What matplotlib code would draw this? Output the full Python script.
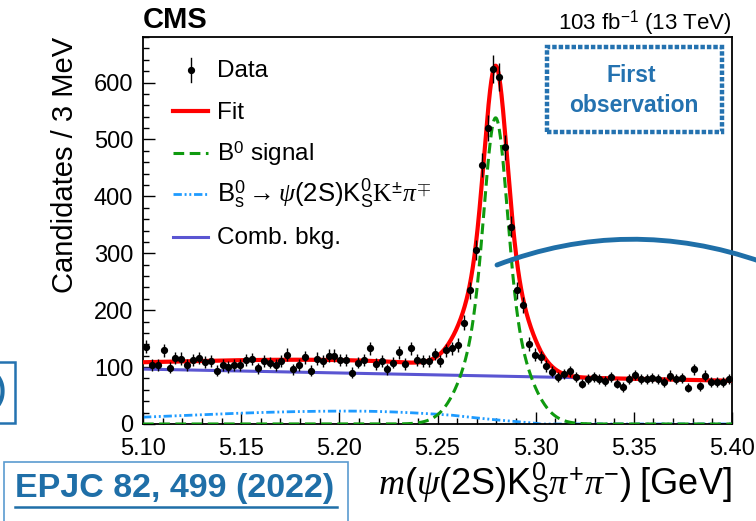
import numpy as np
import matplotlib
matplotlib.use("Agg")
import matplotlib.pyplot as plt
from matplotlib.patches import Rectangle, PathPatch
from matplotlib.path import Path
from matplotlib.lines import Line2D
from matplotlib.ticker import MultipleLocator, FormatStrFormatter

plt.rcParams['font.family'] = ['Liberation Sans', 'DejaVu Sans']
plt.rcParams['mathtext.fontset'] = 'custom'
plt.rcParams['mathtext.rm'] = 'Liberation Sans'
plt.rcParams['mathtext.it'] = 'Liberation Serif:italic'
plt.rcParams['mathtext.bf'] = 'Liberation Sans:bold'
plt.rcParams['mathtext.sf'] = 'Liberation Serif'

# ---- binned candidates: 100 bins of 3 MeV from 5.10 to 5.40 GeV ----
mass_lo, mass_hi, n_bins = 5.10, 5.40, 100
counts = [
    136, 104, 104, 130, 99, 116, 115, 104, 113, 116,
    109, 110, 94, 104, 100, 104, 104, 112, 114, 98,
    110, 108, 104, 110, 122, 96, 104, 117, 94, 115,
    110, 120, 120, 113, 113, 90, 108, 113, 133, 106,
    110, 96, 108, 126, 105, 133, 113, 110, 110, 123,
    110, 130, 133, 139, 178, 235, 306, 455, 520, 624,
    610, 486, 347, 235, 209, 141, 122, 118, 102, 92,
    82, 88, 93, 82, 71, 79, 82, 79, 75, 83,
    71, 65, 79, 86, 79, 79, 81, 79, 74, 85,
    79, 81, 64, 96, 66, 85, 74, 74, 74, 79,
]

# ---- fit model parameters ----
# B0 signal: sum of two Gaussians sharing a mean (heights relative to peak)
sig_mean = 5.2796
sig_height = 538.0
sig_core_width = 0.0055
sig_tail_width = 0.013
sig_core_frac = 0.6
# combinatorial background: straight line between the range edges
comb_at_lo = 96.5
comb_at_hi = 76.0
# Bs0 -> psi(2S) K0S K pi reflection: asymmetric bump ending at a kinematic edge
bs_height = 22.7
bs_mode = 5.205
bs_width_lo = 0.093
bs_width_hi = 0.060
bs_endpoint = 5.302
bs_edge = 0.045

edges = np.linspace(mass_lo, mass_hi, n_bins + 1)
centers = 0.5 * (edges[:-1] + edges[1:])
counts = np.asarray(counts, dtype=float)
errors = np.sqrt(counts)

m = np.linspace(mass_lo, mass_hi, 1501)
d = m - sig_mean
signal = sig_height * (sig_core_frac * np.exp(-0.5 * (d / sig_core_width) ** 2)
                       + (1 - sig_core_frac) * np.exp(-0.5 * (d / sig_tail_width) ** 2))
comb = comb_at_lo + (comb_at_hi - comb_at_lo) * (m - mass_lo) / (mass_hi - mass_lo)
bw = np.where(m < bs_mode, bs_width_lo, bs_width_hi)
bs = bs_height * np.exp(-0.5 * ((m - bs_mode) / bw) ** 2) \
    * np.sqrt(np.clip((bs_endpoint - m) / bs_edge, 0, 1))
total = signal + comb + bs

# ---- figure ----
W, H = 756, 521
fig = plt.figure(figsize=(W / 100, H / 100), dpi=100)


def fpx(x, y):
    return (x / W, 1 - y / H)


ax = fig.add_axes([143 / W, 1 - 424 / H, (732 - 143) / W, (424 - 37) / H])

red = '#ff0000'
green = '#0f9a0f'
cyan = '#1e9bff'
slate = '#5a55d2'

ax.plot(m, bs, color=cyan, lw=2.0, dashes=(3, 1, 0.7, 1, 0.7, 1), zorder=2)
ax.plot(m, comb, color=slate, lw=2.2, zorder=2)
ax.plot(m, total, color=red, lw=3.0, zorder=3)
ax.plot(m, signal, color=green, lw=2.2, dashes=(3.5, 1.8), zorder=4)
ax.errorbar(centers, counts, yerr=errors, fmt='o', color='black', ms=4.2,
            elinewidth=1.0, capsize=0, zorder=5)

ax.set_xlim(mass_lo, mass_hi)
ax.set_ylim(0, 680)
ax.xaxis.set_major_locator(MultipleLocator(0.05))
ax.xaxis.set_minor_locator(MultipleLocator(0.01))
ax.yaxis.set_major_locator(MultipleLocator(100))
ax.yaxis.set_minor_locator(MultipleLocator(20))
ax.xaxis.set_major_formatter(FormatStrFormatter('%.2f'))
ax.tick_params(which='both', direction='in', top=False, right=False,
               labelsize=17, width=1.0, color='black')
ax.tick_params(which='major', length=8.5)
ax.tick_params(axis='x', which='major', pad=10)
ax.tick_params(axis='y', which='major', pad=7)
ax.tick_params(which='minor', length=4)
for s in ax.spines.values():
    s.set_linewidth(1.3)

ax.set_ylabel('Candidates / 3 MeV', fontsize=21, loc='top')
ax.yaxis.set_label_coords(-0.108, 1.0)
ax.set_xlabel(r'$m(\psi\mathrm{(2S)K}^{0}_{\mathrm{S}}\pi^{+}\pi^{-}\mathrm{)\ [GeV]}$',
              fontsize=26, loc='right')
ax.xaxis.set_label_coords(1.0, -0.093)

fig.text(*fpx(143, 28), 'CMS', fontsize=21, fontweight='bold', ha='left', va='baseline')
fig.text(*fpx(732, 29), r'103 fb$^{\mathrm{-1}}$ (13 TeV)', fontsize=16,
         ha='right', va='baseline')

# ---- legend ----
lx0, lx1, tx = 172.7, 208.3, 217.3
fig.add_artist(Line2D([fpx(190.7, 58)[0]] * 2, [fpx(0, 58)[1], fpx(0, 82)[1]],
                      color='black', lw=1.0, transform=fig.transFigure))
fig.add_artist(Line2D([fpx(190.7, 0)[0]], [fpx(0, 69.5)[1]], marker='o', ms=4.2,
                      color='black', ls='none', transform=fig.transFigure))
legend_lines = [
    (110.7, dict(color=red, lw=3.0)),
    (153.3, dict(color=green, lw=2.2, dashes=(3.5, 1.8))),
    (194.3, dict(color=cyan, lw=2.0, dashes=(3, 1, 0.7, 1, 0.7, 1))),
    (236.7, dict(color=slate, lw=2.2)),
]
for y, kw in legend_lines:
    fig.add_artist(Line2D([lx0 / W, lx1 / W], [1 - y / H] * 2,
                          transform=fig.transFigure, **kw))
legend_texts = [
    (77.3, 'Data'),
    (119.3, 'Fit'),
    (160.7, r'B$^{0}$ signal'),
    (202.7, r'$\mathrm{B}^{0}_{\mathrm{s}}\rightarrow\psi\mathrm{(2S)K}^{0}_{\mathrm{S}}'
            r'\mathsf{K}^{\pm}\pi^{\mp}$'),
    (244.0, 'Comb. bkg.'),
]
for y, t in legend_texts:
    fs = 18.5 if t.startswith('$') else 17.5
    fig.text(*fpx(tx, y), t, fontsize=fs, ha='left', va='baseline')

# ---- annotations around the plot ----
blue = '#2472b0'
fig.add_artist(Rectangle(fpx(547, 132), (722 - 547) / W, (132 - 47) / H,
                         transform=fig.transFigure, fill=True, facecolor='white',
                         edgecolor=blue, lw=3.2, ls=(0, (1.0, 0.45)), zorder=6))
fig.text(*fpx(631, 76), 'First', fontsize=16.5, fontweight='bold', color=blue,
         ha='center', va='center', zorder=7)
fig.text(*fpx(634, 106), 'observation', fontsize=16.5, fontweight='bold', color=blue,
         ha='center', va='center', zorder=7)

arc = Path([fpx(497, 265), fpx(628, 215), fpx(762, 262)],
           [Path.MOVETO, Path.CURVE3, Path.CURVE3])
fig.add_artist(PathPatch(arc, transform=fig.transFigure, fill=False,
                         edgecolor='#1f6fa8', lw=3.5, capstyle='round', zorder=6))

fig.add_artist(Rectangle(fpx(-20, 423), 35 / W, (423 - 362) / H,
                         transform=fig.transFigure, fill=False,
                         edgecolor=blue, lw=1.8, zorder=6))
fig.text(*fpx(6, 391), ')', fontsize=22, fontweight='bold', color='#1f6fa8',
         ha='right', va='center', zorder=7)

fig.add_artist(Rectangle(fpx(4, 540), (348 - 4) / W, (540 - 462) / H,
                         transform=fig.transFigure, fill=False,
                         edgecolor='#5a9bd0', lw=1.2, zorder=6))
fig.text(*fpx(15, 497), 'EPJC 82, 499 (2022)', fontsize=24.5, fontweight='bold',
         color='#1f6fa8', ha='left', va='baseline', zorder=7)
fig.add_artist(Line2D([15 / W, 337 / W], [1 - 507 / H] * 2, color='#1f6fa8',
                      lw=1.8, transform=fig.transFigure, zorder=7))

fig.savefig('out.png', dpi=100)
